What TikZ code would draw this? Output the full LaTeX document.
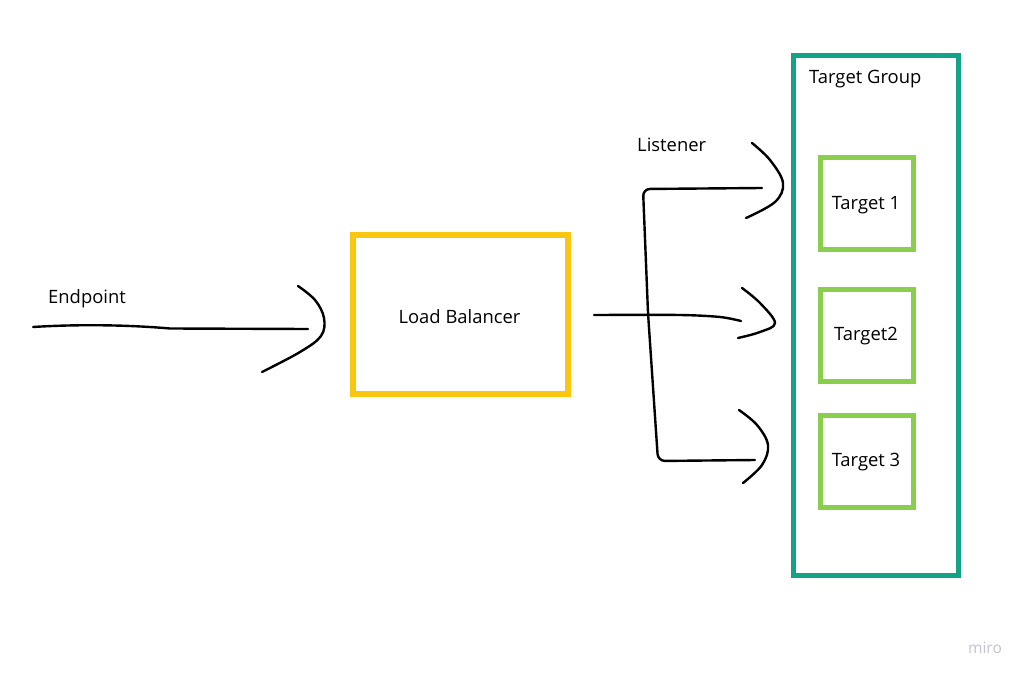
\documentclass[tikz,border=0pt]{standalone}
\usepackage{fontspec}
\setmainfont{Open Sans}
\definecolor{lbyellow}{HTML}{F9C710}
\definecolor{tgteal}{HTML}{13A386}
\definecolor{tgreen}{HTML}{8ACE4E}
\definecolor{mirogray}{HTML}{C4C3D6}
\begin{document}
\begin{tikzpicture}[x=1pt,y=-1pt,
  hand/.style={line width=2.4pt, line cap=round, line join=round, black},
  lbbox/.style={draw=lbyellow, line width=6pt, minimum width=215pt, minimum height=159pt, inner sep=0pt},
  groupbox/.style={draw=tgteal, line width=5pt, minimum width=165pt, minimum height=520pt, inner sep=0pt},
  tbox/.style={draw=tgreen, line width=5pt, minimum width=93pt, minimum height=92pt, inner sep=0pt},
  lbl/.style={font=\fontsize{18.4}{22}\selectfont, inner sep=0pt}
]
\useasboundingbox[fill=white] (0,0) rectangle (1024,676);
% boxes
\node[lbbox] (lb) at (460.5,314.5) {};
\node[lbl] (lbtext) at (459.5,316.5) {Load Balancer};
\node[groupbox] (tg) at (876,315.5) {};
\node[lbl, anchor=west] (tgtext) at (809,79) {Target Group};
\node[tbox] (t1) at (867,203.5) {};
\node[lbl] (t1text) at (866,205) {Target 1};
\node[tbox] (t2) at (867,335) {};
\node[lbl] (t2text) at (866,336) {Target2};
\node[tbox] (t3) at (867,461) {};
\node[lbl] (t3text) at (866,462) {Target 3};
\node[lbl, anchor=west] (eptext) at (48,299) {Endpoint};
\node[lbl, anchor=west] (lstext) at (637,145) {Listener};
\node[font=\fontsize{15.5}{18}\selectfont, text=mirogray, inner sep=0pt] (miro) at (985,648) {miro};
% endpoint arrow
\coordinate (eps) at (33,327);
\coordinate (epe) at (308,329);
\draw[hand] (eps) .. controls (80,324) and (130,325) .. (170,328.5) -- (epe);
\draw[hand] plot[smooth, tension=0.6] coordinates {(298,286) (315,300) (324,318) (321,336) (300,352) (262,372)};
% listener tree
\draw[hand, rounded corners=7pt] (762,188) -- (643,189) -- (648,313) -- (658,461) -- (755,460);
\draw[hand] plot[smooth, tension=0.5] coordinates {(594,315) (680,315) (720,317) (741,321)};
% arrowheads
\draw[hand] plot[smooth, tension=0.6] coordinates {(752,143) (770,160) (783,183) (775,202) (746,218)};
\draw[hand] plot[smooth, tension=0.6] coordinates {(742,288) (760,303) (775,323) (760,332) (738,338)};
\draw[hand] plot[smooth, tension=0.6] coordinates {(739,410) (757,425) (768,445) (762,465) (743,483)};
\end{tikzpicture}
\end{document}
